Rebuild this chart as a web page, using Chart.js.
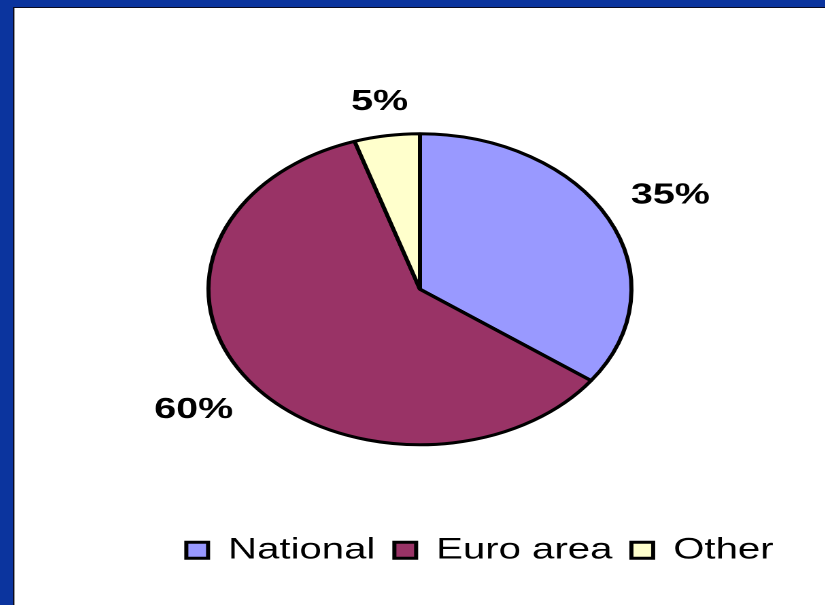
<!DOCTYPE html>
<html>
<head>
<meta charset="utf-8">
<script src="https://cdn.jsdelivr.net/npm/chart.js@4/dist/chart.umd.min.js"></script>
<style>
  html, body { margin: 0; padding: 0; }
  body { width: 825px; height: 605px; background: #0b349e; overflow: hidden; position: relative; }
  #panel { position: absolute; left: 13px; top: 7px; width: 812px; height: 598px; background: #fff;
           border-left: 1px solid #0a0a20; border-top: 1px solid #0a0a20; box-sizing: border-box;
           box-shadow: inset 1px 0 0 #9a9a9a; }
  #wrap { position: absolute; left: 14px; top: 8px; width: 596px; height: 597px;
          transform: scaleX(1.36); transform-origin: 0 0; }
</style>
</head>
<body>
<div id="panel"></div>
<div id="wrap"><canvas id="c" width="596" height="597"></canvas></div>
<script>
const categories = ['National', 'Euro area', 'Other'];
const shares = [35, 60, 5];
const sliceColors = ['#9999ff', '#993366', '#ffffcc'];

const outsideLabels = {
  id: 'outsideLabels',
  afterDatasetsDraw(chart) {
    const ctx = chart.ctx;
    const meta = chart.getDatasetMeta(0);
    const ds = chart.data.datasets[0];
    ctx.save();
    ctx.font = 'bold 29px "Liberation Sans", Arial, sans-serif';
    ctx.fillStyle = '#000';
    ctx.textAlign = 'center';
    ctx.textBaseline = 'middle';
    meta.data.forEach((arc, i) => {
      const p = arc.getProps(['x', 'y', 'startAngle', 'endAngle', 'outerRadius'], true);
      const mid = (p.startAngle + p.endAngle) / 2;
      const ux = Math.cos(mid), uy = Math.sin(mid);
      const text = ds.data[i] + '%';
      const hw = ctx.measureText(text).width / 2;
      const hh = 10.5;
      const R = p.outerRadius + 1.5 + 19 + hw * Math.abs(ux) + hh * Math.abs(uy);
      ctx.fillText(text, p.x + R * ux, p.y + R * uy);
    });
    ctx.restore();
  }
};

new Chart(document.getElementById('c'), {
  type: 'pie',
  data: {
    labels: categories,
    datasets: [{
      data: shares,
      backgroundColor: sliceColors,
      borderColor: '#000',
      borderWidth: 3,
      radius: 155.5
    }]
  },
  options: {
    responsive: false,
    devicePixelRatio: 2,
    animation: false,
    layout: { padding: { left: 24.5, right: 23.5, top: 49, bottom: 30 } },
    plugins: {
      tooltip: { enabled: false },
      legend: {
        position: 'bottom',
        align: 'end',
        labels: {
          boxWidth: 16,
          boxHeight: 16,
          padding: 14,
          color: '#000',
          font: { family: '"Liberation Sans", Arial, sans-serif', size: 29.5 }
        }
      }
    }
  },
  plugins: [outsideLabels]
});
</script>
</body>
</html>
